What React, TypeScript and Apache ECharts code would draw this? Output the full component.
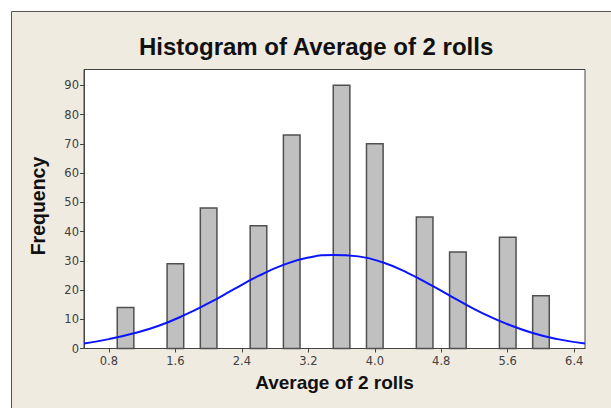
import React, { useEffect, useRef } from "react";
import * as echarts from "echarts";

const binCenters = [1.0, 1.6, 2.0, 2.6, 3.0, 3.6, 4.0, 4.6, 5.0, 5.6, 6.0];
const frequencies = [14, 29, 48, 42, 73, 90, 70, 45, 33, 38, 18];
const curveX = [0.5, 0.8, 1.1, 1.4, 1.7, 2.0, 2.3, 2.6, 2.9, 3.2, 3.5, 3.8, 4.1, 4.4, 4.7, 5.0, 5.3, 5.6, 5.9, 6.2, 6.53];
const curveY = [1.7, 3.2, 5.2, 7.8, 11.3, 15.5, 20.2, 24.8, 28.6, 31.1, 32.0, 31.5, 29.4, 25.8, 21.3, 16.5, 12.0, 8.3, 5.3, 3.2, 1.7];
const xTicks = [0.8, 1.6, 2.4, 3.2, 4.0, 4.8, 5.6, 6.4];
const yTicks = [0, 10, 20, 30, 40, 50, 60, 70, 80, 90];
const binWidth = 0.2;

export default function App() {
  const ref = useRef<HTMLDivElement>(null);
  useEffect(() => {
    if (!ref.current) return;
    const chart = echarts.init(ref.current, null, { renderer: "svg" });
    const labelStyle = { color: "#404040", fontFamily: "DejaVu Sans", fontSize: 11.5 };
    chart.setOption({
      animation: false,
      backgroundColor: "#ffffff",
      graphic: [
        {
          type: "rect",
          z: -10,
          silent: true,
          shape: { x: 11.5, y: 11.5, width: 640, height: 430 },
          style: { fill: "#efebe1", stroke: "#555555", lineWidth: 1 },
        },
      ],
      title: {
        text: "Histogram of Average of 2 rolls",
        left: 134,
        top: 29,
        textStyle: { fontFamily: "Liberation Sans", fontWeight: "bold", fontSize: 24, color: "#111111" },
      },
      grid: {
        left: 84,
        right: 26,
        top: 69.5,
        bottom: 59.5,
        show: true,
        backgroundColor: "#ffffff",
        borderColor: "#444444",
        borderWidth: 1,
      },
      xAxis: {
        type: "value",
        min: 0.5,
        max: 6.53,
        name: "Average of 2 rolls",
        nameLocation: "middle",
        nameGap: 24,
        nameTextStyle: { fontFamily: "Liberation Sans", fontWeight: "bold", fontSize: 19, color: "#111111" },
        axisLine: { show: true, lineStyle: { color: "#444444", width: 1 } },
        axisTick: { show: true, length: 4, customValues: xTicks, lineStyle: { color: "#444444" } },
        axisLabel: { ...labelStyle, margin: 6, customValues: xTicks, formatter: (v: number) => v.toFixed(1) },
        splitLine: { show: false },
      },
      yAxis: {
        type: "value",
        min: 0,
        max: 95.4,
        name: "Frequency",
        nameLocation: "middle",
        nameGap: 36,
        nameTextStyle: { fontFamily: "Liberation Sans", fontWeight: "bold", fontSize: 19.5, color: "#111111", padding: [0, 0, 0, 6] },
        axisLine: { show: true, lineStyle: { color: "#444444", width: 1 } },
        axisTick: { show: true, length: 4, customValues: yTicks, lineStyle: { color: "#444444" } },
        axisLabel: { ...labelStyle, margin: 5, customValues: yTicks },
        splitLine: { show: false },
      },
      series: [
        {
          type: "custom",
          data: binCenters.map((c, i) => [c, frequencies[i]]),
          renderItem: (params: any, api: any) => {
            const c = api.value(0);
            const f = api.value(1);
            const p1 = api.coord([c - binWidth / 2, f]);
            const p2 = api.coord([c + binWidth / 2, 0]);
            return {
              type: "rect",
              shape: { x: p1[0], y: p1[1], width: p2[0] - p1[0], height: p2[1] - p1[1] },
              style: { fill: "#c0c0c0", stroke: "#505050", lineWidth: 1.5 },
            };
          },
          z: 2,
        },
        {
          type: "line",
          data: curveX.map((x, i) => [x, curveY[i]]),
          smooth: true,
          showSymbol: false,
          lineStyle: { color: "#0a14ff", width: 2 },
          z: 3,
        },
      ],
    });
    return () => chart.dispose();
  }, []);
  return <div ref={ref} style={{ position: "fixed", left: 0, top: 0, width: 611, height: 408 }} />;
}
